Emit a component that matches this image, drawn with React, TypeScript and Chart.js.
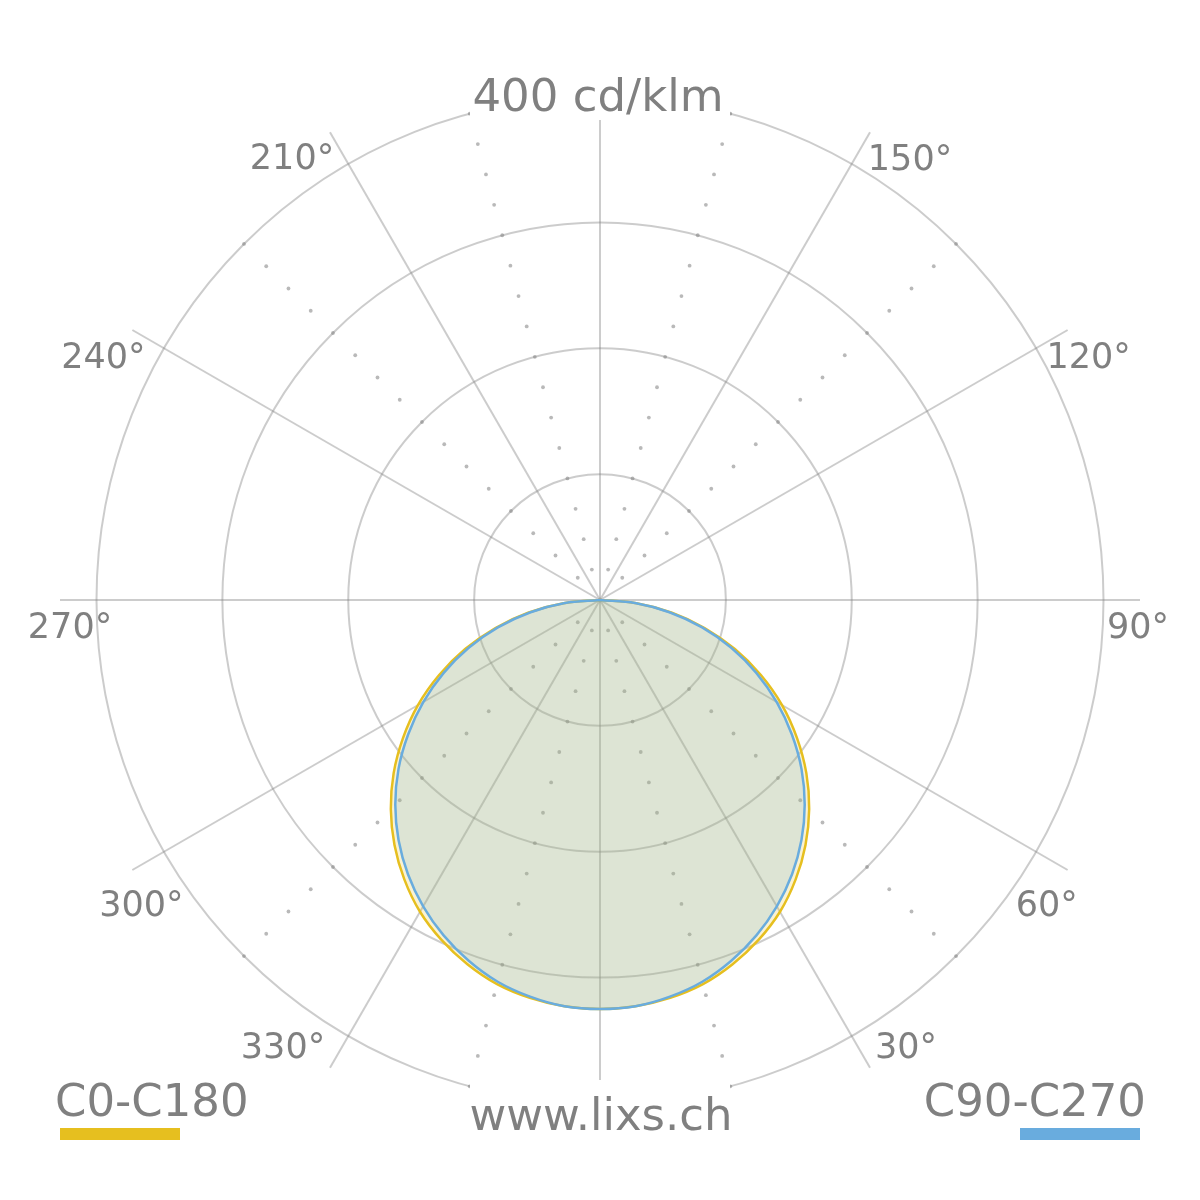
import { Chart, registerables } from 'chart.js';
import { useEffect, useRef } from 'react';

Chart.register(...registerables);

// gamma angles of the measured profiles, degrees from nadir
const GAMMA = [
    0, 5, 10, 15, 20, 25, 30, 35, 40, 45, 50, 55, 60, 65, 70, 75, 80, 85, 90,
    95, 100, 105, 110, 115, 120, 125, 130, 135, 140, 145, 150, 155, 160, 165, 170, 175, 180
];

// luminous intensity, cd/klm
const C0_C180 = [
    325, 324, 321, 316, 308, 298, 286, 271, 254, 235, 214, 191, 167, 141, 114, 86, 58, 29, 0,
    0, 0, 0, 0, 0, 0, 0, 0, 0, 0, 0, 0, 0, 0, 0, 0, 0, 0
];
const C90_C270 = [
    325, 324, 320, 314, 305, 294, 281, 266, 249, 230, 209, 186, 162, 137, 111, 84, 56, 28, 0,
    0, 0, 0, 0, 0, 0, 0, 0, 0, 0, 0, 0, 0, 0, 0, 0, 0, 0
];

const SERIES_NAMES = ['C0-C180', 'C90-C270'];
const SERIES_COLORS = ['#e6bf1f', '#69acde'];
const SERIES_FILLS = ['rgba(230,191,31,0.2)', 'rgba(105,172,222,0.2)'];

const SCALE_MAX = 429;
const RING_VALUES = [100, 200, 300, 400];
const SPOKE_ANGLES = [0, 30, 60, 90, 120, 150, 180, 210, 240, 270, 300, 330];
const LABEL_ANGLES = [30, 60, 90, 120, 150, 210, 240, 270, 300, 330];
const DOT_ANGLES = [15, 45, 135, 165, 195, 225, 315, 345];
const DOT_VALUES = [25, 50, 75, 100, 125, 150, 175, 200, 225, 250, 275, 300, 325, 350, 375, 400];

const UNIT_LABEL = '400 cd/klm';
const SITE_LABEL = 'www.lixs.ch';

const GRID = 'rgba(128,128,128,0.4)';
const TEXT = '#808080';
const FONT = '"DejaVu Sans", Verdana, sans-serif';

// label centre offset from the end of its spoke
const LABEL_NUDGE: Record<number, [number, number]> = {
    30: [36, -23], 60: [-21, 33], 90: [-2, 25], 120: [21, 25], 150: [40, 25],
    210: [-38, 24], 240: [-29, 25], 270: [10, 25], 300: [9, 33], 330: [-47, -23]
};

const STEP = 5;
// radar runs clockwise from the bottom, gamma runs counter-clockwise
const RADAR_ANGLES = Array.from({ length: 360 / STEP }, (_, i) => (360 - i * STEP) % 360);
const indexOfGamma = (g: number) => ((360 - g) % 360) / STEP;

function fullCircle(profile: number[]) {
    return RADAR_ANGLES.map(g => {
        const gamma = g <= 180 ? g : 360 - g;
        return profile[GAMMA.indexOf(gamma)];
    });
}

const polarDecor = {
    id: 'polarDecor',
    beforeDatasetsDraw(chart: any) {
        const r = chart.scales.r;
        const ctx = chart.ctx;
        ctx.save();
        ctx.fillStyle = 'rgba(128,128,128,0.55)';
        DOT_ANGLES.forEach(g => {
            DOT_VALUES.forEach(v => {
                const p = r.getPointPositionForValue(indexOfGamma(g), v);
                ctx.beginPath();
                ctx.arc(p.x, p.y, 1.9, 0, Math.PI * 2);
                ctx.fill();
            });
        });
        ctx.restore();
    },
    afterDraw(chart: any) {
        const r = chart.scales.r;
        const ctx = chart.ctx;
        const cx = r.xCenter;
        const cy = r.yCenter;
        ctx.save();

        // clear the grid behind the top and bottom captions
        ctx.fillStyle = '#ffffff';
        ctx.fillRect(cx - 130, cy - 545, 260, 65);
        ctx.fillRect(cx - 130, cy + 480, 260, 65);

        ctx.fillStyle = TEXT;
        ctx.textBaseline = 'alphabetic';

        ctx.font = `35px ${FONT}`;
        ctx.textAlign = 'center';
        LABEL_ANGLES.forEach(g => {
            const end = r.getPointPosition(indexOfGamma(g), r.drawingArea);
            const [dx, dy] = LABEL_NUDGE[g];
            ctx.fillText(`${g}°`, end.x + dx, end.y + dy + 13);
        });

        ctx.font = `45px ${FONT}`;
        ctx.fillText(UNIT_LABEL, cx - 2, cy - 489);
        ctx.fillText(SITE_LABEL, cx + 1, cy + 530);

        ctx.textAlign = 'left';
        ctx.fillText(SERIES_NAMES[0], 55, 1116);
        ctx.textAlign = 'right';
        ctx.fillText(SERIES_NAMES[1], 1146, 1116);

        ctx.fillStyle = SERIES_COLORS[0];
        ctx.fillRect(60, 1128, 120, 12);
        ctx.fillStyle = SERIES_COLORS[1];
        ctx.fillRect(1020, 1128, 120, 12);

        ctx.restore();
    }
};

function PolarDiagram() {
    const canvasRef = useRef<HTMLCanvasElement>(null);
    const chartInstanceRef = useRef<Chart | null>(null);

    useEffect(() => {
        if (!canvasRef.current) return;
        const ctx = canvasRef.current.getContext('2d');
        if (!ctx) return;

        if (chartInstanceRef.current) {
            chartInstanceRef.current.destroy();
        }

        chartInstanceRef.current = new Chart(ctx, {
            type: 'radar',
            data: {
                labels: RADAR_ANGLES.map(g => `${g}°`),
                datasets: [
                    {
                        label: SERIES_NAMES[0],
                        data: fullCircle(C0_C180),
                        borderColor: SERIES_COLORS[0],
                        backgroundColor: SERIES_FILLS[0],
                        borderWidth: 2.5,
                        pointRadius: 0,
                        fill: true,
                        order: 1
                    },
                    {
                        label: SERIES_NAMES[1],
                        data: fullCircle(C90_C270),
                        borderColor: SERIES_COLORS[1],
                        backgroundColor: SERIES_FILLS[1],
                        borderWidth: 2.5,
                        pointRadius: 0,
                        fill: true,
                        order: 0
                    }
                ]
            },
            options: {
                animation: false,
                responsive: true,
                maintainAspectRatio: false,
                layout: { padding: 60 },
                elements: { line: { tension: 0.35 } },
                scales: {
                    r: {
                        min: 0,
                        max: SCALE_MAX,
                        startAngle: 180,
                        ticks: { display: false, stepSize: 100 },
                        pointLabels: { display: false },
                        grid: {
                            circular: true,
                            color: GRID,
                            lineWidth: (c: any) => (RING_VALUES.includes(c.tick?.value) ? 2 : 0)
                        },
                        angleLines: {
                            color: GRID,
                            lineWidth: (c: any) => (SPOKE_ANGLES.includes(RADAR_ANGLES[c.index]) ? 2 : 0)
                        }
                    }
                },
                plugins: {
                    legend: { display: false },
                    tooltip: { enabled: false }
                }
            },
            plugins: [polarDecor]
        });

        return () => {
            if (chartInstanceRef.current) {
                chartInstanceRef.current.destroy();
                chartInstanceRef.current = null;
            }
        };
    }, []);

    return <canvas ref={canvasRef} />;
}

export default function App() {
    return (
        <div style={{ position: 'absolute', left: 0, top: 0, width: 1200, height: 1200, background: '#fff' }}>
            <PolarDiagram />
        </div>
    );
}
